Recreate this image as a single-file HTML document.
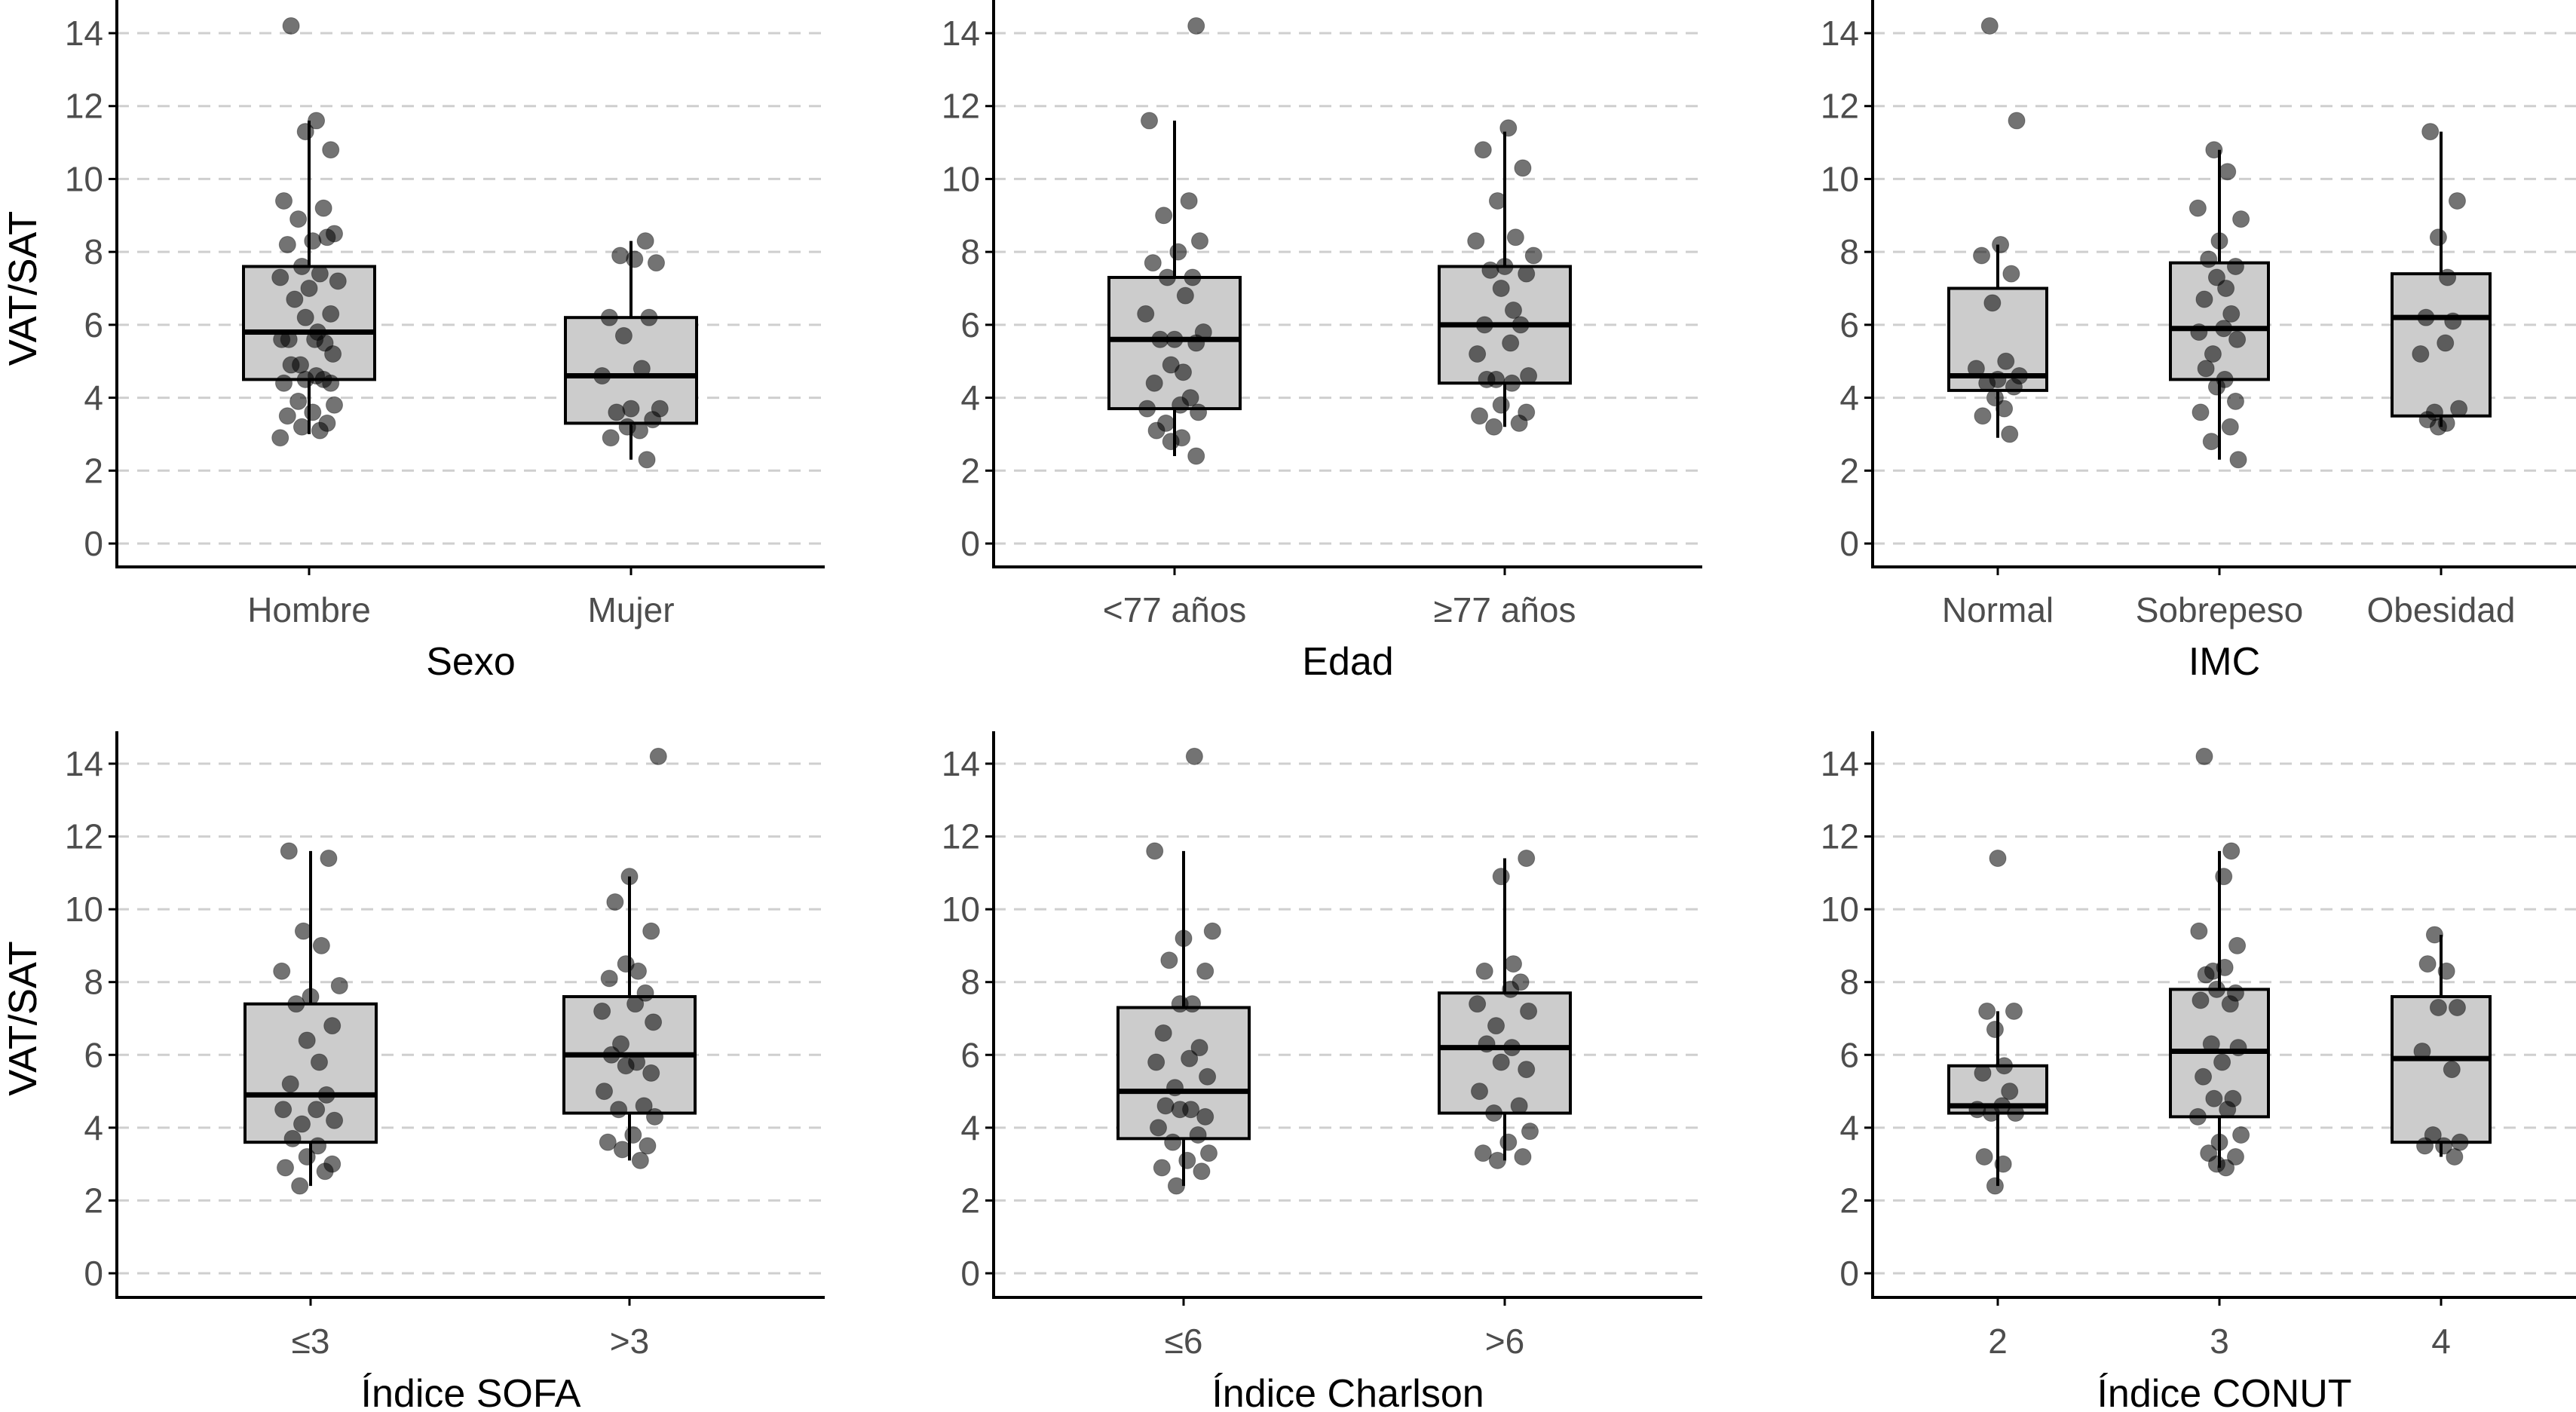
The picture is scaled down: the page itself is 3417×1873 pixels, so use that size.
<!DOCTYPE html>
<html><head><meta charset="utf-8"><style>
html,body{margin:0;padding:0;background:#fff;}
svg{display:block;}
</style></head><body>
<svg id="chart" width="3417" height="1873" viewBox="0 0 3417 1873" xmlns="http://www.w3.org/2000/svg"></svg>
<script>
const yTicks = [0, 2, 4, 6, 8, 10, 12, 14];
const panelTitles = ["Sexo", "Edad", "IMC", "Índice SOFA", "Índice Charlson", "Índice CONUT"];
const panelCategories = [["Hombre","Mujer"],["<77 años","≥77 años"],["Normal","Sobrepeso","Obesidad"],["≤3",">3"],["≤6",">6"],["2","3","4"]];
// box stats: [whiskerLow, q1, median, q3, whiskerHigh]
const sexoStats = [[3.0,4.5,5.8,7.6,11.6],[2.3,3.3,4.6,6.2,8.3]];
const edadStats = [[2.4,3.7,5.6,7.3,11.6],[3.2,4.4,6.0,7.6,11.3]];
const imcStats = [[2.9,4.2,4.6,7.0,8.2],[2.3,4.5,5.9,7.7,10.8],[3.2,3.5,6.2,7.4,11.3]];
const sofaStats = [[2.4,3.6,4.9,7.4,11.6],[3.1,4.4,6.0,7.6,10.9]];
const charlsonStats = [[2.4,3.7,5.0,7.3,11.6],[3.1,4.4,6.2,7.7,11.4]];
const conutStats = [[2.4,4.4,4.6,5.7,7.2],[2.9,4.3,6.1,7.8,11.6],[3.2,3.6,5.9,7.6,9.3]];
// points
const sexoPts = [[14.2,11.6,11.3,10.8,9.4,9.2,8.9,8.5,8.3,8.2,8.4,7.6,7.4,7.3,7.2,7.0,6.7,6.3,6.2,5.8,5.6,5.5,5.6,5.6,5.2,4.9,4.9,4.6,4.5,4.4,4.4,4.5,3.9,3.8,3.6,3.5,3.3,3.2,3.1,2.9],
  [8.3,7.9,7.7,7.8,6.2,6.2,5.7,4.8,4.6,3.7,3.7,3.6,3.4,3.2,3.1,2.9,2.3]];
const edadPts = [[14.2,11.6,9.4,9.0,8.3,8.0,7.7,7.3,7.3,6.8,6.3,5.8,5.6,5.6,5.5,4.9,4.7,4.4,4.0,3.8,3.7,3.6,3.3,3.1,2.9,2.8,2.4],
  [11.4,10.8,10.3,9.4,8.4,8.3,7.9,7.6,7.5,7.4,7.0,6.4,6.0,6.0,5.5,5.2,4.6,4.5,4.5,4.4,3.8,3.6,3.5,3.3,3.2]];
const imcPts = [[14.2,11.6,8.2,7.9,7.4,6.6,5.0,4.8,4.6,4.5,4.4,4.3,4.0,3.7,3.5,3.0],
  [10.8,10.2,9.2,8.9,8.3,7.8,7.6,7.3,7.0,6.7,6.3,5.9,5.8,5.6,5.2,4.8,4.5,4.3,3.9,3.6,3.2,2.8,2.3],
  [11.3,9.4,8.4,7.3,6.2,6.1,5.5,5.2,3.7,3.6,3.4,3.3,3.2]];
const sofaPts = [[11.6,11.4,9.4,9.0,8.3,7.9,7.6,7.4,6.8,6.4,5.8,5.2,4.9,4.5,4.5,4.2,4.1,3.7,3.5,3.2,3.0,2.9,2.8,2.4],
  [14.2,10.9,10.2,9.4,8.5,8.3,8.1,7.7,7.4,7.2,6.9,6.3,6.0,5.8,5.7,5.5,5.0,4.6,4.5,4.3,3.8,3.6,3.5,3.4,3.1]];
const charlsonPts = [[14.2,11.6,9.4,9.2,8.6,8.3,7.4,7.4,6.6,6.2,5.9,5.8,5.4,5.1,4.6,4.5,4.5,4.3,4.0,3.8,3.6,3.3,3.1,2.9,2.8,2.4],
  [11.4,10.9,8.5,8.3,8.0,7.8,7.4,7.2,6.8,6.3,6.2,5.8,5.6,5.0,4.6,4.4,3.9,3.6,3.3,3.2,3.1]];
const conutPts = [[11.4,7.2,7.2,6.7,5.7,5.5,5.0,4.6,4.5,4.4,4.4,3.2,3.0,2.4],
  [14.2,11.6,10.9,9.4,9.0,8.3,8.2,8.4,7.8,7.7,7.5,7.4,6.3,6.2,5.8,5.4,4.8,4.8,4.5,4.3,3.8,3.6,3.3,3.2,3.0,2.9],
  [9.3,8.5,8.3,7.3,7.3,6.1,5.6,3.8,3.6,3.5,3.5,3.2]];
const jitterPattern = [-0.25,0.1,-0.05,0.3,-0.35,0.2,-0.15,0.35,0.05,-0.3,0.25,-0.1,0.15,-0.4,0.4,0.0,-0.2,0.3,-0.05,0.12,-0.28,0.22,0.08,-0.38,0.33,-0.12];

const allStats = [sexoStats, edadStats, imcStats, sofaStats, charlsonStats, conutStats];
const allPts = [sexoPts, edadPts, imcPts, sofaPts, charlsonPts, conutPts];

const NS = "http://www.w3.org/2000/svg";
const svg = document.getElementById('chart');
function mk(tag, attrs, parent){ const e=document.createElementNS(NS,tag); for(const k in attrs) e.setAttribute(k,attrs[k]); (parent||svg).appendChild(e); return e; }

const cols = [{ax:155,right:1094,cats2:[410,837],cats3:null},{ax:1318,right:2258,cats2:[1558,1996]},{ax:2484,right:3417,cats3:[2650,2944,3238]}];
const rows = [{top:0,y0:721,y14:44,bottom:752,tickY:825,titleY:895},{top:970,y0:1689,y14:1013,bottom:1721,tickY:1795,titleY:1866}];
const cat3 = [2650,2944,3238];
const catX = [[410,837],[1558,1996],cat3,[412,835],[1570,1996],cat3];

for(let p=0;p<6;p++){
  const c = cols[p%3], r = rows[Math.floor(p/3)];
  const g = mk('g',{});
  
  
  const yScale = v => r.y0 - v*(r.y0-r.y14)/14;
  // gridlines + y ticks
  yTicks.forEach(t=>{
    const y=yScale(t);
    const gl=mk('line',{x1:c.ax,x2:c.right,y1:y,y2:y,stroke:'#cfcfcf','stroke-width':3,'stroke-dasharray':'16 11'},g);
    
    
    mk('line',{x1:c.ax-11,x2:c.ax,y1:y,y2:y,stroke:'#000','stroke-width':3},g);
    const tl=mk('text',{x:c.ax-18,y:y+16,'text-anchor':'end','font-family':'Liberation Sans, sans-serif','font-size':46,fill:'#4d4d4d'},g);
    tl.textContent=t;
    
    
  });
  // axes
  const ya=mk('line',{x1:c.ax,x2:c.ax,y1:r.top,y2:r.bottom,stroke:'#000','stroke-width':4},g);
  
  
  const xa=mk('line',{x1:c.ax-2,x2:c.right,y1:r.bottom,y2:r.bottom,stroke:'#000','stroke-width':4},g);
  
  
  const yl=mk('text',{x:0,y:0,transform:`translate(48,${(r.y0+r.y14)/2}) rotate(-90)`,'text-anchor':'middle','font-family':'Liberation Sans, sans-serif','font-size':52,fill:'#000'},g);
  yl.textContent='VAT/SAT';
  
  
  const cats = panelCategories[p], xs = catX[p];
  const hw = cats.length===2 ? 87 : 65;
  cats.forEach((cat,i)=>{
    const x=xs[i], s=allStats[p][i];
    mk('line',{x1:x,x2:x,y1:r.bottom,y2:r.bottom+11,stroke:'#000','stroke-width':3},g);
    const xl=mk('text',{x:x,y:r.tickY,'text-anchor':'middle','font-family':'Liberation Sans, sans-serif','font-size':46,fill:'#4d4d4d'},g);
    xl.textContent=cat;
    
    
    const wh=mk('line',{x1:x,x2:x,y1:yScale(s[0]),y2:yScale(s[4]),stroke:'#000','stroke-width':4},g);
    
    
    const bx=mk('rect',{x:x-hw,y:yScale(s[3]),width:2*hw,height:yScale(s[1])-yScale(s[3]),fill:'#cccccc',stroke:'#000','stroke-width':4},g);
    
    
    const md=mk('line',{x1:x-hw,x2:x+hw,y1:yScale(s[2]),y2:yScale(s[2]),stroke:'#000','stroke-width':7},g);
    
    
    allPts[p][i].forEach((v,k)=>{
      const jx = x + jitterPattern[(k+i*5+p*3)%jitterPattern.length]*hw*1.1;
      const pt=mk('circle',{cx:jx,cy:yScale(v),r:11,fill:'rgba(0,0,0,0.55)',stroke:'rgba(0,0,0,0.35)','stroke-width':1},g);
      
      
    });
  });
  const tt=mk('text',{x:(c.ax+c.right)/2,y:r.titleY,'text-anchor':'middle','font-family':'Liberation Sans, sans-serif','font-size':52,fill:'#000'},g);
  tt.textContent=panelTitles[p];
  
  
}
</script>
</body></html>
